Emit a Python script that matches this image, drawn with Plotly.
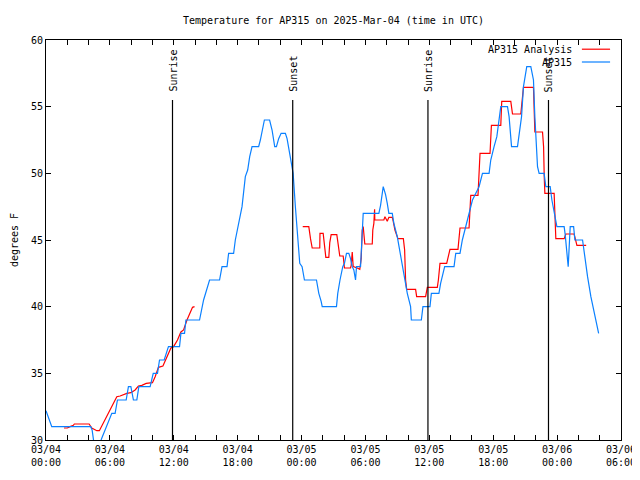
import pandas as pd
import plotly.graph_objects as go

# ---- data (hours since 2025-03-04 00:00 UTC, temperature F) ----
ap315_hours = [0, 0.54, 4.2, 4.33, 4.55, 4.85, 5.17, 6.18, 6.49, 6.71, 7.53, 7.74, 7.97, 8.21, 8.53,
               8.72, 9.78, 10.07, 10.47, 10.66, 11.1, 11.5, 12.54, 12.67, 13.01, 13.14, 14.42, 14.8,
               15.36, 16.3, 16.53, 17.0, 17.15, 17.62, 17.78, 18.41, 18.72, 18.94, 19.13, 19.35,
               19.97, 20.13, 20.51, 21.0, 21.23, 21.48, 21.64, 21.85, 22.08, 22.48, 22.64, 22.95,
               23.21, 23.42, 23.64, 23.83, 24.05, 24.27, 25.4, 25.62, 25.84, 25.94, 27.28, 27.4,
               27.61, 27.87, 28.03, 28.22, 28.44, 28.6, 28.76, 28.91, 29.07, 29.16, 29.54, 29.7,
               29.79, 31.26, 31.42, 31.67, 31.89, 32.05, 32.2, 32.52, 32.67, 32.99, 33.3, 33.61,
               33.93, 34.24, 34.31, 35.25, 35.4, 36.06, 36.19, 36.9, 37.06, 37.44, 38.32, 38.48,
               38.88, 39.1, 39.42, 39.73, 40.05, 40.67, 40.99, 41.61, 41.77, 42.08, 42.34, 42.71,
               43.34, 43.49, 43.72, 44.28, 44.43, 44.66, 44.84, 45.06, 45.15, 45.53, 45.78, 45.91,
               46.03, 46.16, 46.31, 46.78, 46.94, 47.35, 47.51, 47.72, 47.98, 48.66, 48.76, 49.04,
               49.23, 49.55, 49.67, 50.39, 50.54, 50.86, 51.17, 51.49, 51.9]
ap315_temp = [32.2, 31, 31, 30.75, 29.5, 29.5, 30, 32, 32, 33, 33, 34, 34, 33, 33,
              34, 34, 35, 35, 36, 36, 37, 37, 38, 38, 39, 39, 40.5,
              42, 42, 43, 43, 44, 44, 45, 47.5, 49.75, 50.25, 51.25, 52,
              52, 52.5, 54, 54, 53.25, 52, 52, 52.6, 53, 53, 52.6, 51,
              50, 47.5, 45.25, 43.25, 43, 42, 42, 41, 40.4, 40, 40, 41,
              42, 43, 43.25, 44, 44, 43.6, 43, 42.75, 42, 43, 43, 45.25,
              47, 47, 47.6, 49, 48.4, 47.75, 47, 47, 46.25, 45.25, 43.75, 42.25,
              41, 40, 39, 39, 40, 40, 41, 41, 41.75, 43, 43, 44,
              44, 45, 46, 47, 48, 49, 50, 50, 51, 52, 52.75, 55,
              55, 54.25, 52, 52, 53, 54.25, 56.5, 57.4, 58, 58, 57, 54.25,
              52.5, 50.5, 50, 50, 49, 49, 48, 47, 46, 46, 45.4, 43,
              46, 46, 45, 45, 44, 42.25, 40.75, 39.5, 38]

analysis_hours_a = [1.69, 2.0, 2.26, 2.57, 2.66, 4.05, 4.3, 4.61, 4.77, 5.01, 5.71, 6.18, 6.65, 6.96,
                    7.27, 7.59, 7.97, 8.37, 8.68, 9.0, 9.41, 10.0, 10.25, 10.56, 10.98, 11.35,
                    11.73, 11.98, 12.35, 12.67, 12.92, 13.24, 13.55, 13.76, 13.95]
analysis_temp_a = [30.9, 30.9, 31.0, 31.1, 31.2, 31.2, 30.9, 30.8, 30.7, 30.7, 31.75, 32.5, 33.25, 33.3,
                   33.4, 33.5, 33.55, 33.75, 34.05, 34.1, 34.25, 34.3, 34.75, 35.45, 35.55, 36.25,
                   36.9, 37, 37.5, 38.1, 38.25, 39, 39.6, 39.95, 40]
analysis_hours_b = [24.11, 24.68, 24.84, 25.0, 25.71, 25.73, 26.03, 26.15, 26.28, 26.56, 26.65, 26.78,
                    27.31, 27.4, 27.5, 27.59, 27.91, 28.03, 28.6, 28.66, 28.76, 28.85, 29.23, 29.47,
                    29.6, 29.7, 29.79, 29.85, 29.94, 30.64, 30.69, 30.79, 30.86, 30.88, 31.73, 31.83,
                    31.92, 32.05, 32.2, 32.52, 32.61, 32.77, 33.05, 33.56, 33.68, 33.77, 33.87, 34.71,
                    34.81, 35.65, 35.81, 36.75, 36.85, 37.0, 37.63, 37.75, 37.94, 38.69, 38.82, 38.88,
                    39.73, 39.82, 39.89, 40.57, 40.67, 40.76, 41.7, 41.83, 42.71, 42.8, 43.65, 43.81,
                    44.59, 44.75, 44.84, 45.78, 45.91, 46.63, 46.73, 46.79, 46.85, 47.72, 47.82, 47.88,
                    48.66, 48.82, 49.6, 49.86, 50.73]
analysis_temp_b = [46, 46, 45.1, 44.4, 44.4, 45.5, 45.5, 44.5, 43.7, 43.7, 44.8, 45.4,
                   45.4, 44.9, 44.1, 43.8, 43.8, 42.9, 42.9, 43.1, 44.1, 43.0, 42.9, 42.8,
                   43.6, 45.75, 46, 45.1, 44.7, 44.7, 45.75, 46.25, 47.3, 46.5, 46.5, 46.75,
                   46.6, 46.4, 46.7, 46.7, 46.4, 45.75, 45.1, 45.1, 44.25, 42, 41.3, 41.3,
                   40.75, 40.75, 41.45, 41.45, 42, 43.25, 43.25, 43.75, 44.3, 44.3, 45.1, 45.9,
                   45.9, 47.05, 48.35, 48.35, 49.95, 51.5, 51.5, 53.6, 53.6, 55.4, 55.4, 54.45,
                   54.45, 55.5, 56.45, 56.45, 53.1, 53.1, 52, 49.75, 48.5, 48.5, 47, 45.1,
                   45.1, 45.45, 45.45, 44.6, 44.6]

sun_labels = ["Sunrise", "Sunset", "Sunrise", "Sunset"]
sun_hours = [11.88, 23.17, 35.87, 47.19]
sun_line_top = 55.5

series_names = ["AP315 Analysis", "AP315"]
series_colors = ["#ff0000", "#0a80ff"]

y_ticks = [30, 35, 40, 45, 50, 55, 60]
title_text = "Temperature for AP315 on 2025-Mar-04 (time in UTC)"
y_label = "degrees F"

base = pd.Timestamp("2025-03-04 00:00")
def to_time(hours):
    return [base + pd.Timedelta(hours=h) for h in hours]

FONT = "DejaVu Sans Mono"

fig = go.Figure()
red_x = to_time(analysis_hours_a) + [None] + to_time(analysis_hours_b)
red_y = analysis_temp_a + [None] + analysis_temp_b
fig.add_trace(go.Scatter(x=red_x, y=red_y, mode="lines", name=series_names[0],
                         line=dict(color=series_colors[0], width=1.2), connectgaps=False,
                         showlegend=False))
fig.add_trace(go.Scatter(x=to_time(ap315_hours), y=ap315_temp, mode="lines", name=series_names[1],
                         line=dict(color=series_colors[1], width=1.2), showlegend=False))

for lab, h in zip(sun_labels, sun_hours):
    t = base + pd.Timedelta(hours=h)
    fig.add_shape(type="line", x0=t, x1=t, y0=y_ticks[0], y1=sun_line_top, xref="x", yref="y",
                  line=dict(color="black", width=1.2))
    fig.add_annotation(x=t, y=sun_line_top, xref="x", yref="y", text=lab, textangle=-90,
                       showarrow=False, xanchor="center", yanchor="bottom", yshift=6,
                       font=dict(family=FONT, size=10, color="black"))

# manual legend (text right-aligned, sample line on the right)
for i, (nm, col) in enumerate(zip(series_names, series_colors)):
    yy = 0.977 - i * 0.032
    fig.add_annotation(x=0.918, y=yy, xref="paper", yref="paper", text=nm, showarrow=False,
                       xanchor="right", yanchor="middle", font=dict(family=FONT, size=10, color="black"))
    fig.add_shape(type="line", x0=0.932, x1=0.981, y0=yy, y1=yy, xref="paper", yref="paper",
                  line=dict(color=col, width=1.2))

fig.add_annotation(x=-0.0555, y=0.5, xref="paper", yref="paper", text=y_label, textangle=-90,
                   showarrow=False, xanchor="center", yanchor="middle",
                   font=dict(family=FONT, size=10, color="black"))

# page body adds an 8px offset; margins compensate so the plot area lands at x 46..621, y 40..440
fig.update_layout(
    width=640, height=480,
    margin=dict(l=38, r=27, t=32, b=48),
    paper_bgcolor="white", plot_bgcolor="white",
    title=dict(text=title_text, x=0.5, xref="paper", y=1 - 12 / 480, yref="container",
               xanchor="center", yanchor="middle", font=dict(family=FONT, size=10, color="black")),
    font=dict(family=FONT, size=10, color="black"),
)
fig.update_xaxes(
    range=[base, base + pd.Timedelta(hours=54)],
    dtick=6 * 3600 * 1000, tick0=base, tickformat="%m/%d<br>%H:%M",
    ticks="inside", ticklen=5, tickcolor="black",
    showline=True, linecolor="black", linewidth=1, mirror="allticks",
    showgrid=False, zeroline=False,
    minor=dict(dtick=2 * 3600 * 1000, ticks="inside", ticklen=5, tickcolor="black", showgrid=False),
    tickfont=dict(family=FONT, size=10, color="black"),
)
fig.update_yaxes(
    range=[y_ticks[0], y_ticks[-1]], tickvals=y_ticks,
    ticks="inside", ticklen=5, tickcolor="black",
    showline=True, linecolor="black", linewidth=1, mirror="allticks",
    showgrid=False, zeroline=False,
    tickfont=dict(family=FONT, size=10, color="black"),
)

fig.write_html("out.html")
